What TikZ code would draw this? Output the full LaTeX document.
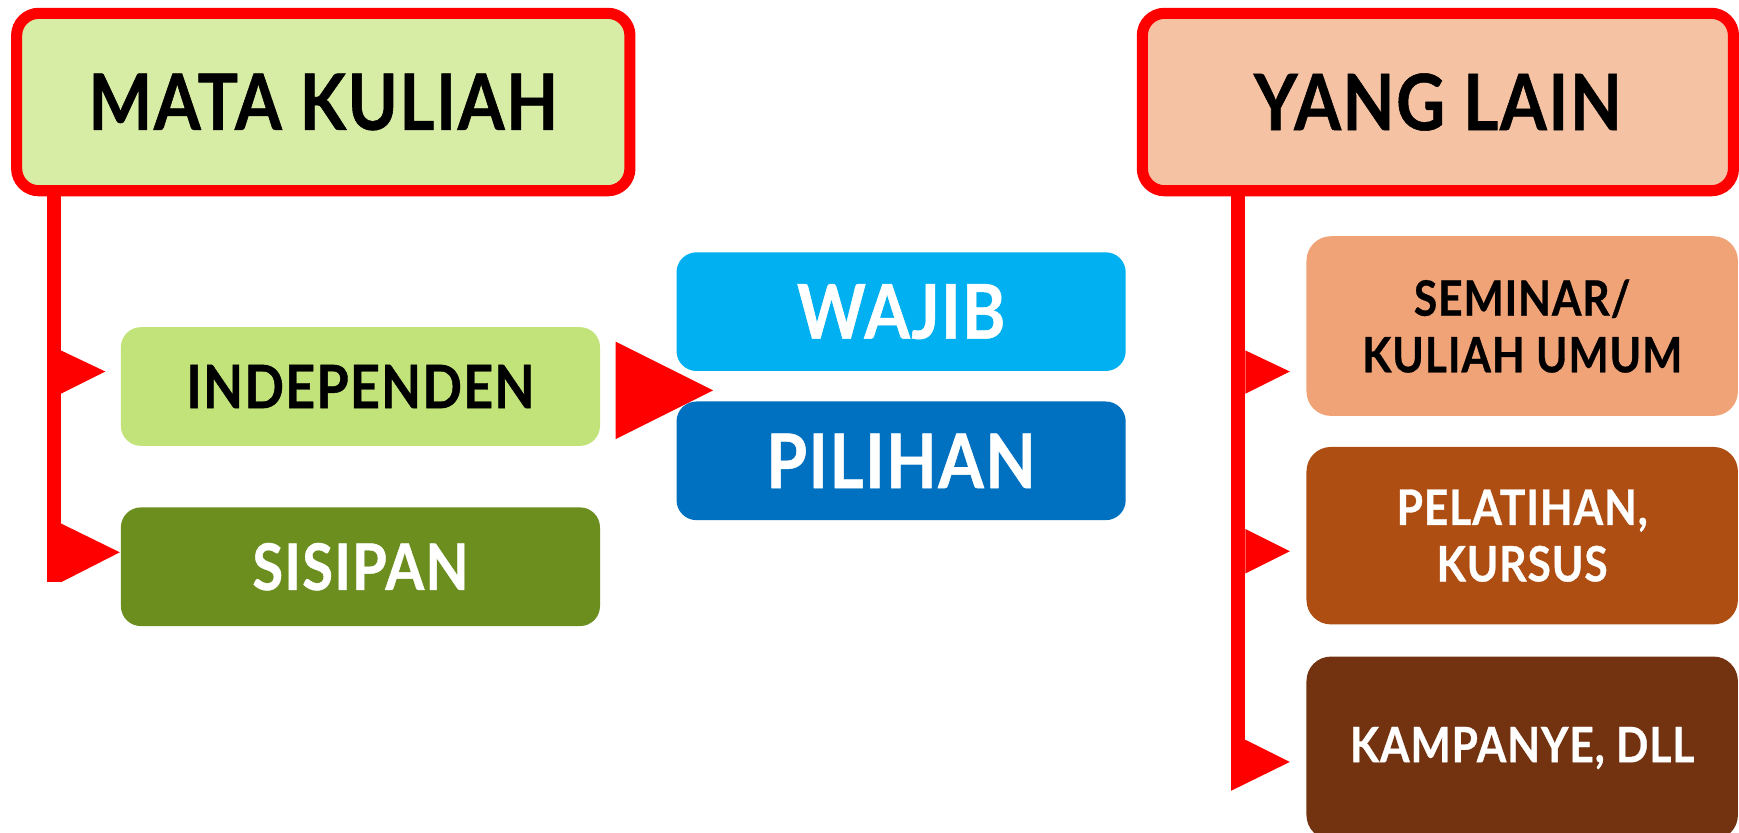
\documentclass[tikz,border=0pt]{standalone}
\usepackage{fontspec}
\setmainfont{Lato}[FakeStretch=0.87,LetterSpace=2,BoldFeatures={FakeBold=0.7}]
\usepackage{xcolor}
\usetikzlibrary{calc,positioning}
\definecolor{mkfill}{HTML}{D7ECA4}
\definecolor{ylfill}{HTML}{F5C3A4}
\definecolor{indfill}{HTML}{C2E37A}
\definecolor{sisfill}{HTML}{6B8E1F}
\definecolor{wajfill}{HTML}{00B0F0}
\definecolor{pilfill}{HTML}{0070C0}
\definecolor{semfill}{HTML}{F1A378}
\definecolor{pelfill}{HTML}{AE4E13}
\definecolor{kamfill}{HTML}{733210}

\begin{document}
\begin{tikzpicture}[x=1pt,y=-1pt,
		head/.style={draw=red,line width=10pt,rounded corners=20pt,minimum height=160pt,inner sep=0pt,font=\fontsize{70}{84}\selectfont\bfseries},
		sub/.style={rounded corners=18pt,minimum width=432pt,minimum height=107pt,inner sep=0pt,font=\fontsize{58}{70}\selectfont\bfseries},
		opt/.style={rounded corners=18pt,minimum width=405pt,minimum height=107pt,inner sep=0pt,text=white,font=\fontsize{68}{80}\selectfont\bfseries},
		side/.style={rounded corners=22pt,minimum width=389pt,inner sep=0pt,align=center,font=\fontsize{44}{51}\selectfont\bfseries},
		trunk/.style={draw=red,line width=13pt},
		tri/.style={fill=red}]
		\useasboundingbox (0,0) rectangle (1568,751);
		\node[head,fill=mkfill,minimum width=553pt] (mk) at (291.5,92) {MATA KULIAH};
		\node[head,fill=ylfill,minimum width=533pt] (yl) at (1296.5,92) {YANG LAIN};
		\node[sub,fill=indfill,font=\fontsize{54}{64}\selectfont\bfseries] (ind) at (325,348.5) {INDEPENDEN};
		\node[sub,fill=sisfill,text=white] (sis) at (325,511) {SISIPAN};
		\node[opt,fill=wajfill] (waj) at (812.5,281) {WAJIB};
		\node[opt,fill=pilfill] (pil) at (812.5,415.5) {PILIHAN};
		\node[side,fill=semfill,minimum height=162pt] (sem) at (1372.5,294) {SEMINAR/\\KULIAH UMUM};
		\node[side,fill=pelfill,minimum height=160pt,text=white] (pel) at (1372.5,483) {PELATIHAN,\\KURSUS};
		\node[side,fill=kamfill,minimum height=165pt,text=white] (kam) at (1372.5,674.5) {KAMPANYE, DLL};
		\coordinate (lb) at (48.5,525);
		\coordinate (rb) at (1116.5,707);
		\draw[trunk] (lb |- mk.south) to (lb);
		\draw[trunk] (rb |- yl.south) to (rb);
		\fill[tri] (55,316) -- (95,335) -- (55,355) -- cycle;
		\fill[tri] (55,472) -- (108,498) -- (55,525) -- cycle;
		\fill[tri] (1123,316) -- (1163,335) -- (1123,355) -- cycle;
		\fill[tri] (1123,477) -- (1163,497) -- (1123,517) -- cycle;
		\fill[tri] (1123,667) -- (1163,687) -- (1110,713) -- (1110,700) -- cycle;
		\fill[tri] (555,308) -- (643,352) -- (555,396) -- cycle;
	\end{tikzpicture}
\end{document}
